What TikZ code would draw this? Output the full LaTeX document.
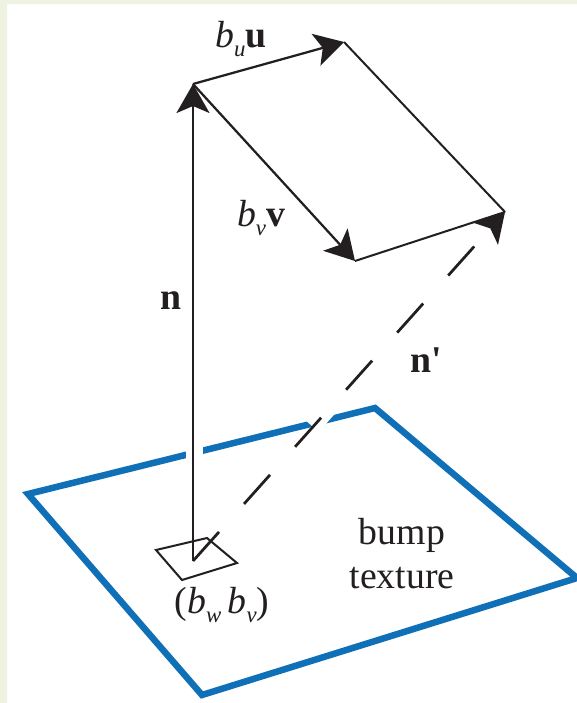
\documentclass[tikz,border=0pt]{standalone}
\usepackage{fontspec}
\setmainfont{Liberation Serif}
\usetikzlibrary{arrows.meta}
\definecolor{bumpblue}{HTML}{0F70B7}
\definecolor{inkblack}{HTML}{231F20}
\definecolor{pageedge}{HTML}{EEF2E0}
\newcommand{\coef}[1]{\textit{b}\raisebox{-0.22em}{\fontsize{13}{13}\selectfont\textit{#1}}}
\tikzset{
  vec/.style={line width=0.045cm,color=inkblack,-{Stealth[length=0.58cm,width=0.66cm,inset=0.14cm]}},
  edge/.style={line width=0.04cm,color=inkblack},
  label/.style={inner sep=0pt,text=inkblack,font=\fontsize{21.5}{25}\selectfont},
  gap/.style={white,line width=0.36cm}
}
\begin{document}
\begin{tikzpicture}[x=0.02cm,y=-0.02cm]
\useasboundingbox (0,0) rectangle (577,703);
\fill[white] (0,0) rectangle (577,703);
\fill[pageedge] (0,0) rectangle (577,4) (0,0) rectangle (7,703);
% texture plane
\coordinate (p1) at (28,494);
\coordinate (p2) at (375,408);
\coordinate (p3) at (577,578);
\coordinate (p4) at (202,695);
\draw[bumpblue,line width=0.13cm,line join=miter] (p1) -- (p2) -- (p3) -- (p4) -- cycle;
% small texel
\coordinate (base) at (193,561);
\coordinate (s1) at (156,550);
\coordinate (s2) at (207,538);
\coordinate (s3) at (237,563);
\coordinate (s4) at (182,580);
% parallelogram
\coordinate (top) at (193,84);
\coordinate (uend) at (344,42);
\coordinate (vend) at (355,261);
\coordinate (tip) at (505,212);
% gaps in the plane
\draw[gap,line width=0.34cm] (194.5,440) -- (194.5,465);
\draw[gap] (328,408) -- (312,426);
\draw[edge] (s1) -- (s2) -- (s3) -- (s4) -- cycle;
\draw[vec,line width=0.055cm] (base) -- (top);
\draw[vec,line width=0.055cm,dash pattern=on 0.78cm off 0.752cm] (base) -- (tip);
\draw[vec] (top) -- (uend);
\draw[vec] (top) -- (vend);
\draw[edge] (uend) -- (tip);
\draw[edge] (vend) -- (tip);
% labels
\node[label] (bu) at (241,39) {\coef{u}\textbf{u}};
\node[label] (bv) at (261,218) {\coef{v}\textbf{v}};
\node[label] (n) at (171,301) {\textbf{n}};
\node[label] (nprime) at (426,360) {\textbf{n\textquotesingle}};
\node[label] (bump) at (402,535) {bump};
\node[label] (texture) at (402,578) {texture};
\node[label] (coords) at (222,605) {(\coef{w}\,\coef{v})};
\end{tikzpicture}
\end{document}
